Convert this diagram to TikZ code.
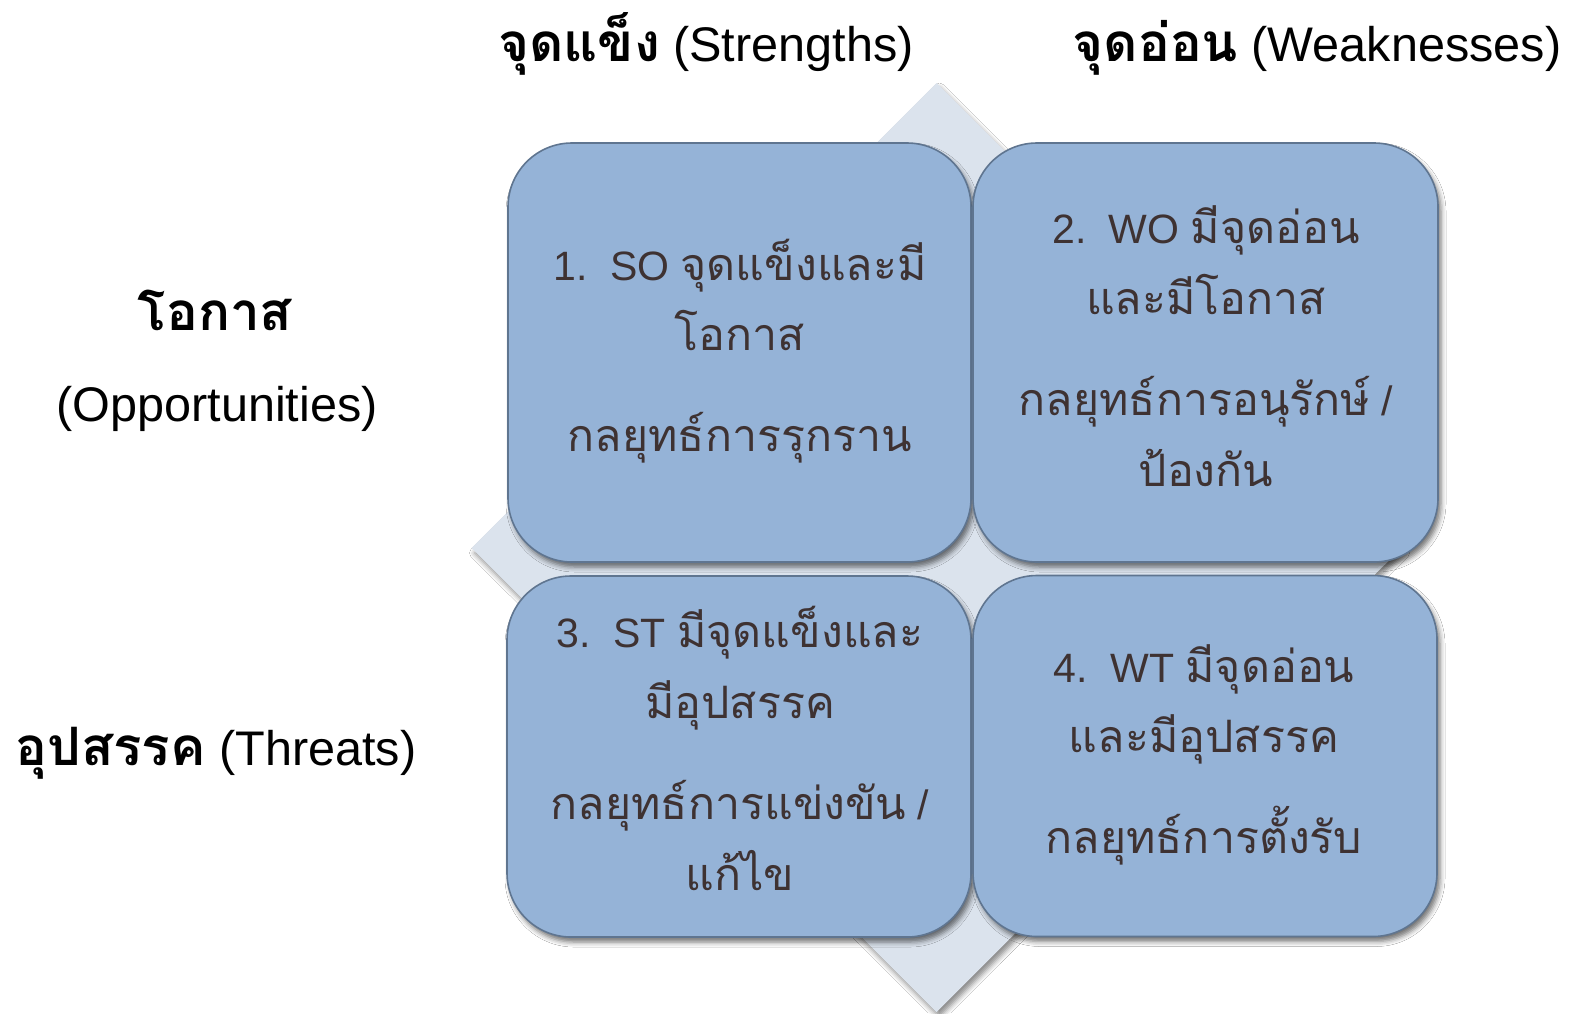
\documentclass[tikz,border=0pt]{standalone}
\usepackage{fontspec}
\setmainfont{Liberation Sans}
\newfontfamily\thaifont[Script=Thai,Scale=1.09]{Loma}
\usetikzlibrary{shadows.blur}
\definecolor{boxfill}{HTML}{95B3D7}
\definecolor{boxline}{HTML}{5F7590}
\definecolor{diafill}{HTML}{DBE3ED}
\definecolor{txtcol}{HTML}{3E3232}
\newcommand\thx[1]{{\thaifont #1}}
\newcommand\thb[1]{{\thaifont\bfseries #1}}
\begin{document}
\begin{tikzpicture}[x=0.5pt,y=-0.5pt,
  quad/.style={draw=boxline, line width=0.8pt, fill=boxfill, rounded corners=32pt,
    blur shadow={shadow xshift=1.5pt, shadow yshift=-2.5pt, shadow blur radius=2.5pt, shadow opacity=55},
    inner sep=0pt},
  btxt/.style={font=\fontsize{20.5}{24}\selectfont, text=txtcol, anchor=base, inner sep=0pt},
  hdr/.style={font=\fontsize{24.3}{28}\selectfont, text=black, anchor=base, inner sep=0pt}]
\fill[white] (0,0) rectangle (1583,1013);
\useasboundingbox (0,0) rectangle (1583,1013);
% diamond
\fill[diafill, blur shadow={shadow xshift=1.5pt, shadow yshift=-2.5pt, shadow blur radius=2.5pt, shadow opacity=45}]
  (936.5,83) -- (1401.5,548) -- (936.5,1012) -- (471.5,548) -- cycle;
% boxes
\node[quad, minimum width=231.5pt, minimum height=209.5pt] (b1) at (739.5,352.5) {};
\node[quad, minimum width=232.5pt, minimum height=209.5pt] (b2) at (1205.5,352.5) {};
\node[quad, minimum width=232pt, minimum height=180.5pt] (b3) at (739,756.5) {};
\node[quad, minimum width=232pt, minimum height=180.5pt] (b4) at (1205,756) {};
% box texts
\node[btxt] (t11) at (740,280) {1.\hspace{0.55em}SO \thx{จุดแข็งและมี}};
\node[btxt] (t12) at (740,350) {\thx{โอกาส}};
\node[btxt] (t13) at (740,451) {\thx{กลยุทธ์การรุกราน}};
\node[btxt] (t21) at (1206,243) {2.\hspace{0.55em}WO \thx{มีจุดอ่อน}};
\node[btxt] (t22) at (1206,314) {\thx{และมีโอกาส}};
\node[btxt] (t23) at (1206,415) {\thx{กลยุทธ์การอนุรักษ์} /};
\node[btxt] (t24) at (1206,486) {\thx{ป้องกัน}};
\node[btxt] (t31) at (740,647) {3.\hspace{0.55em}ST \thx{มีจุดแข็งและ}};
\node[btxt] (t32) at (740,718) {\thx{มีอุปสรรค}};
\node[btxt] (t33) at (740,819) {\thx{กลยุทธ์การแข่งขัน} /};
\node[btxt] (t34) at (740,890) {\thx{แก้ไข}};
\node[btxt] (t41) at (1204,682) {4.\hspace{0.55em}WT \thx{มีจุดอ่อน}};
\node[btxt] (t42) at (1204,752) {\thx{และมีอุปสรรค}};
\node[btxt] (t43) at (1204,853) {\thx{กลยุทธ์การตั้งรับ}};
% headers
\node[hdr] (hs) at (706,61) {\thb{จุดแข็ง} (Strengths)};
\node[hdr] (hw) at (1317,61) {\thb{จุดอ่อน} (Weaknesses)};
\node[hdr] (ho1) at (215,330) {\thb{โอกาส}};
\node[hdr] (ho2) at (217,421) {(Opportunities)};
\node[hdr] (ht) at (216,765) {\thb{อุปสรรค} (Threats)};
\end{tikzpicture}
\end{document}
